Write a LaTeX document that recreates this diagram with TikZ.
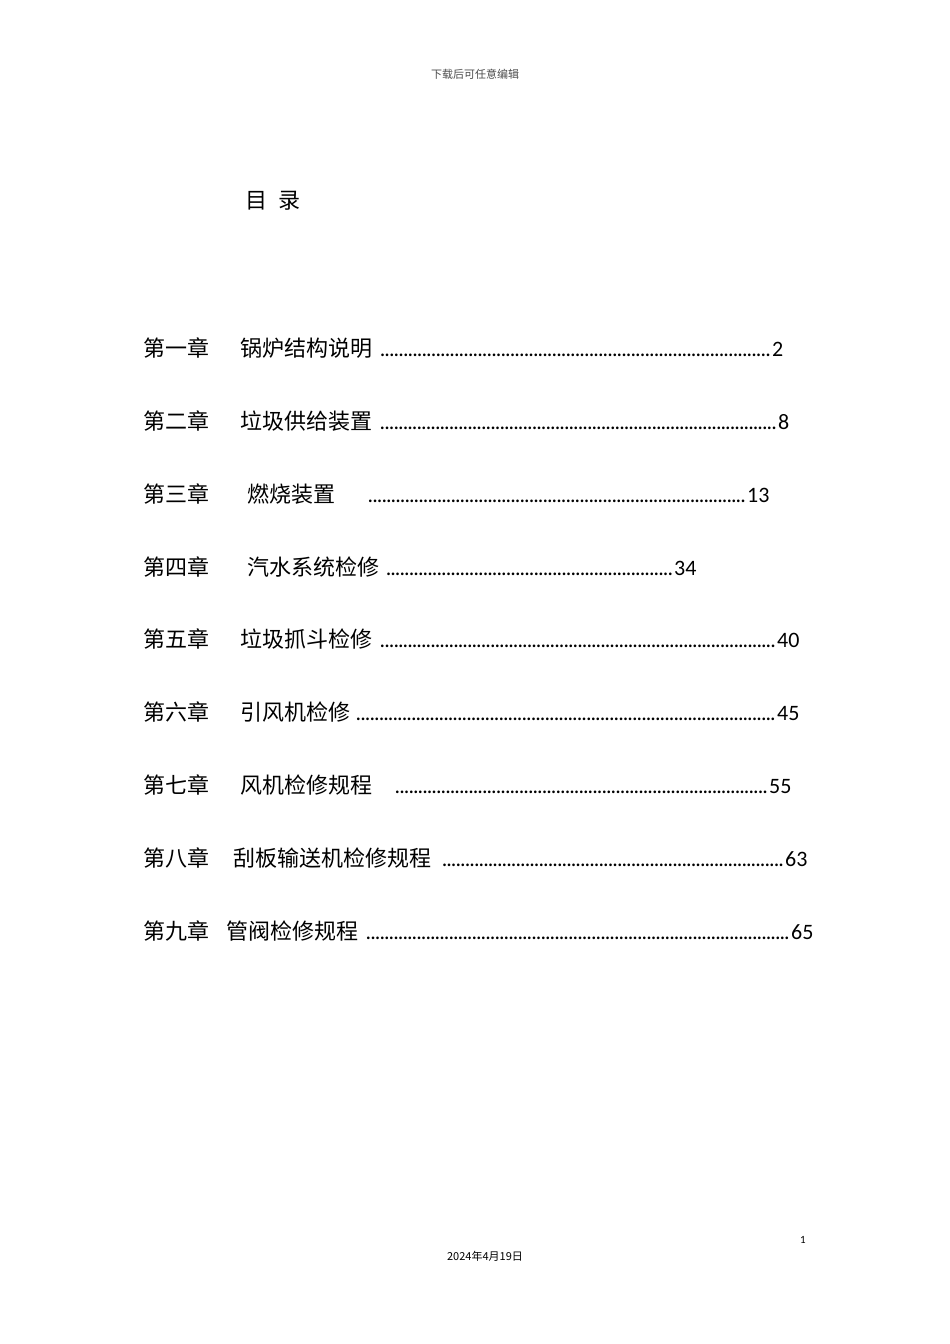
\documentclass[tikz,border=0pt]{standalone}
\usepackage{fontspec}
\setmainfont{Carlito}
\newfontfamily\cjk{Noto Sans CJK SC}
\newfontfamily\cjkserif{Noto Sans CJK SC}
\tikzset{
  toc/.style={anchor=base west,inner sep=0pt,font=\fontsize{22}{24}\selectfont\cjk},
  num/.style={anchor=base west,inner sep=0pt,font=\fontsize{22}{24}\selectfont},
  small/.style={inner sep=0pt,font=\fontsize{11}{12}\selectfont\cjk}
}
\newcommand{\tocdots}[4]{\path (#1,#3) node[anchor=base west,inner sep=0pt,text width=#2pt-#1pt,font=\fontsize{22}{24}\selectfont] (#4) {\leavevmode\xleaders\hbox to 4.6pt{\hss.\hss}\hfill\kern0pt};}
\begin{document}
\begin{tikzpicture}[x=1pt,y=-1pt]
\useasboundingbox[fill=white] (0,0) rectangle (950,1344);
\node[small,color=black!70] (hdr) at (475,74) {下载后可任意编辑};
\node[anchor=base west,inner sep=0pt,font=\fontsize{22}{24}\selectfont\cjk] (title) at (245,208) {目\hspace{0.5em}录};
% rows
\node[toc] (c1) at (143,356) {第一章}; \node[toc] (t1) at (240,356) {锅炉结构说明};
\tocdots{380}{771}{356}{d1} \node[num] (n1) at (772,356) {2};
\node[toc] (c2) at (143,429) {第二章}; \node[toc] (t2) at (240,429) {垃圾供给装置};
\tocdots{380}{777}{429}{d2} \node[num] (n2) at (778,429) {8};
\node[toc] (c3) at (143,502) {第三章}; \node[toc] (t3) at (247,502) {燃烧装置};
\tocdots{368}{746}{502}{d3} \node[num] (n3) at (747,502) {13};
\node[toc] (c4) at (143,575) {第四章}; \node[toc] (t4) at (247,575) {汽水系统检修};
\tocdots{386}{673}{575}{d4} \node[num] (n4) at (674,575) {34};
\node[toc] (c5) at (143,647) {第五章}; \node[toc] (t5) at (240,647) {垃圾抓斗检修};
\tocdots{380}{776}{647}{d5} \node[num] (n5) at (777,647) {40};
\node[toc] (c6) at (143,720) {第六章}; \node[toc] (t6) at (240,720) {引风机检修};
\tocdots{356}{776}{720}{d6} \node[num] (n6) at (777,720) {45};
\node[toc] (c7) at (143,793) {第七章}; \node[toc] (t7) at (240,793) {风机检修规程};
\tocdots{395}{768}{793}{d7} \node[num] (n7) at (769,793) {55};
\node[toc] (c8) at (143,866) {第八章}; \node[toc] (t8) at (233,866) {刮板输送机检修规程};
\tocdots{442}{784}{866}{d8} \node[num] (n8) at (785,866) {63};
\node[toc] (c9) at (143,939) {第九章}; \node[toc] (t9) at (226,939) {管阀检修规程};
\tocdots{366}{790}{939}{d9} \node[num] (n9) at (791,939) {65};
% footer
\node[inner sep=0pt,font=\fontsize{11}{12}\selectfont] (pg) at (803,1240) {1};
\node[small] (date) at (485,1256) {2024年4月19日};
\end{tikzpicture}
\end{document}
